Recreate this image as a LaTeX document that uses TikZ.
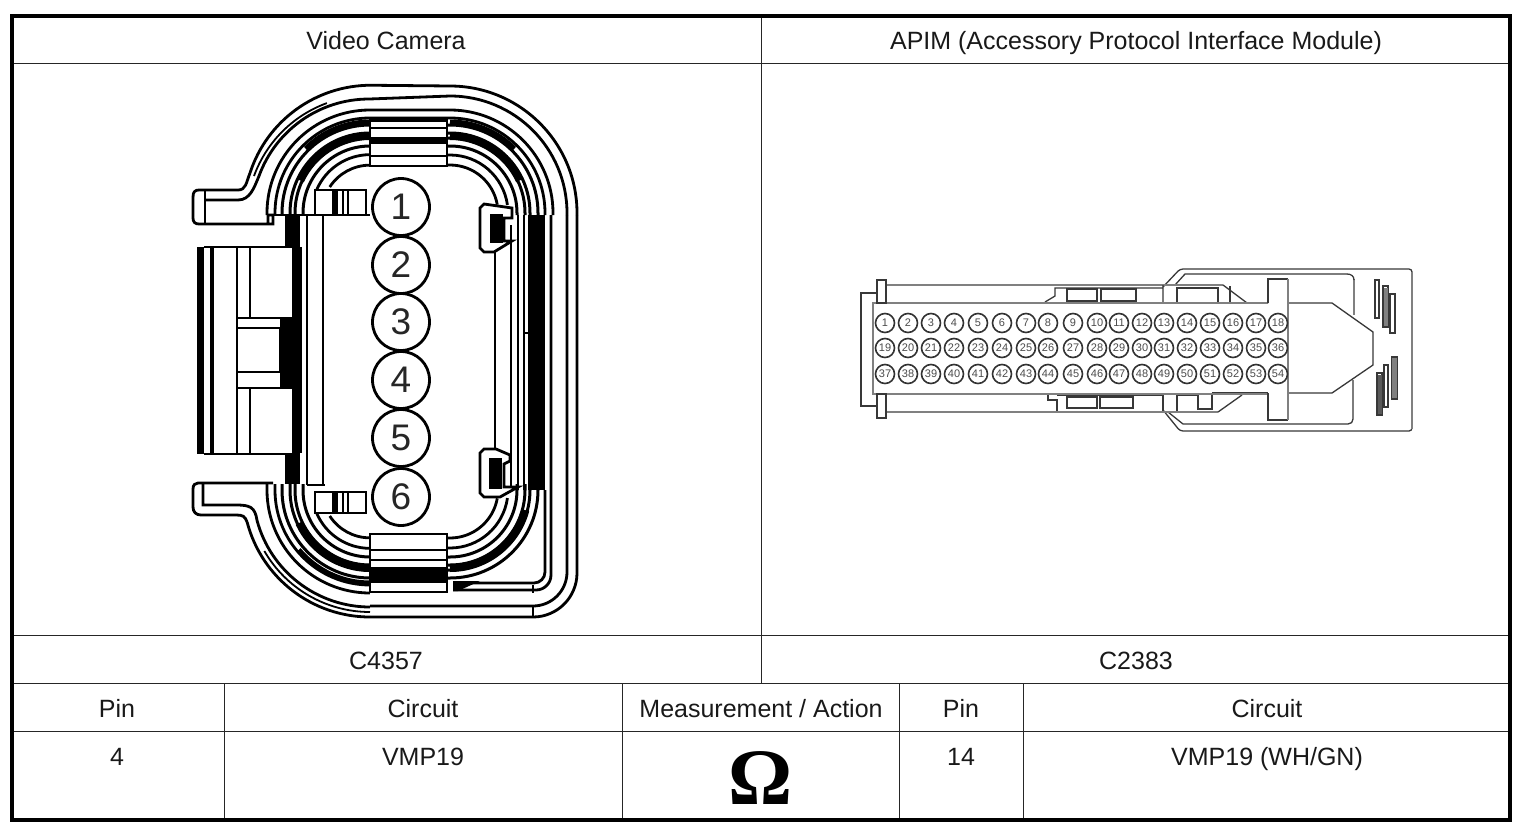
\documentclass[tikz,border=0pt]{standalone}
\usepackage{fontspec}
\setmainfont{Liberation Sans}
\newfontfamily\omegafont{Liberation Serif}
\begin{document}
\begin{tikzpicture}[x=1pt,y=-1pt,
  grid/.style={line width=1pt,black!85},
  lbl/.style={font=\fontsize{25}{28}\selectfont,inner sep=0pt,text=black!90,anchor=base},
  ln/.style={line width=2.8pt,black},
  thn/.style={line width=1.8pt,black},
  band/.style={line width=8pt,black},
  bigpin/.style={circle,draw=black,line width=2.8pt,fill=white,minimum size=57pt,inner sep=0pt,font=\fontsize{37}{40}\selectfont,text=black!85},
  gl/.style={line width=1.3pt,black!65},
  gd/.style={line width=1.3pt,black!78},
  gt/.style={line width=2.2pt,black!50},
  smallpin/.style={circle,draw=black!80,line width=1.6pt,fill=white,minimum size=19pt,inner sep=0pt,font=\fontsize{11}{12}\selectfont,text=black!70}
]
\useasboundingbox (0,0) rectangle (1526,830);
\fill[white] (0,0) rectangle (1526,830);

% ---------- table ----------
\draw[grid] (12,63) -- (1510,63) (12,635) -- (1510,635) (12,683) -- (1510,683) (12,731) -- (1510,731);
\draw[grid] (761,16) -- (761,683);
\draw[grid] (224,683) -- (224,820) (622,683) -- (622,820) (899,683) -- (899,820) (1023,683) -- (1023,820);
\draw[line width=3.6pt,black] (12,16) rectangle (1510,820);

\node[lbl] (hcam) at (386,49) {Video Camera};
\node[lbl] (hapim) at (1136,49) {APIM (Accessory Protocol Interface Module)};
\node[lbl] (ccam) at (386,669) {C4357};
\node[lbl] (capim) at (1136,669) {C2383};
\node[lbl] (th1) at (117,717) {Pin};
\node[lbl] (th2) at (423,717) {Circuit};
\node[lbl] (th3) at (761,717) {Measurement / Action};
\node[lbl] (th4) at (961,717) {Pin};
\node[lbl] (th5) at (1267,717) {Circuit};
\node[lbl] (td1) at (117,765) {4};
\node[lbl] (td2) at (423,765) {VMP19};
\node[lbl] (td4) at (961,765) {14};
\node[lbl] (td5) at (1267,765) {VMP19 (WH/GN)};
\node[inner sep=0pt,font=\omegafont\bfseries\fontsize{80}{82}\selectfont,anchor=base] (omega) at (761,804) {Ω};

% ---------- video camera connector ----------
% outer shell top with the tab
\draw[ln] (193,197) .. controls (193,192) and (195,190) .. (199,190) -- (238,190) .. controls (246,190) and (246,183) .. (250,173)
  arc[start angle=198,end angle=270,radius=127] -- (450,86) arc[start angle=270,end angle=360,radius=127] -- (577,215);
\draw[ln] (205,200) -- (238,200) .. controls (250,200) and (254,188) .. (259,176)
  arc[start angle=200,end angle=270,radius=117] -- (450,96) arc[start angle=270,end angle=360,radius=117] -- (567,215);
\draw[thn] (254,176) arc[start angle=200,end angle=250,radius=122];
\draw[ln] (193,197) -- (193,218) .. controls (193,222) and (195,224) .. (199,224) -- (273,224) -- (273,215) -- (268,215) -- (268,224);
\draw[ln] (205,191) -- (205,224);
% strip at the right
\draw[ln] (567,215) -- (567,572) arc[start angle=0,end angle=90,radius=34] -- (370,606);
\draw[ln] (577,215) -- (577,573) arc[start angle=0,end angle=90,radius=44] -- (370,617);
\draw[ln] (533,606) -- (533,617);
\draw[ln] (370,617) arc[start angle=90,end angle=165,radius=127] .. controls (245,516) and (243,515) .. (236,515) -- (201,515) .. controls (196,515) and (193,512) .. (193,507) -- (193,489) .. controls (193,485) and (195,483) .. (198,483) -- (273,483);
\draw[ln] (370,607) arc[start angle=90,end angle=165,radius=117] .. controls (255,507) and (250,505) .. (236,505) -- (203,505) -- (203,484);
\draw[thn] (370,612) arc[start angle=90,end angle=150,radius=122];

% concentric rings at the top
\foreach \r/\w in {103/2.8,95/2.8,88/3,80/3,75/3,67/3}{
  \draw[line width=\w pt] ({370-\r},215) -- ({370-\r},213) arc[start angle=180,end angle=270,radius=\r] -- (450,{213-\r}) arc[start angle=270,end angle=360,radius=\r] -- ({450+\r},215);
}
\draw[ln] ({370-58*cos(23)},190) arc[start angle=203,end angle=270,radius=58] -- (450,155) arc[start angle=270,end angle=352,radius=58];
\draw[ln] ({370-48*cos(33)},187) arc[start angle=213,end angle=270,radius=48] -- (450,165) arc[start angle=270,end angle=350,radius=48];
% heavy wedges at the top
\draw[band] (370,136) arc[start angle=270,end angle=205,radius=77];
\draw[band] (450,136) arc[start angle=270,end angle=335,radius=77];
\draw[line width=5pt] (370,122) arc[start angle=270,end angle=225,radius=91];
\draw[line width=5pt] (450,122) arc[start angle=270,end angle=315,radius=91];

% concentric rings at the bottom
\foreach \r/\w in {103/2.8,95/2.8}{
  \draw[line width=\w pt] ({370-\r},484) -- ({370-\r},490) arc[start angle=180,end angle=90,radius=\r];
}
\foreach \r/\w in {88/3,80/3,75/3,67/3}{
  \draw[line width=\w pt] ({370-\r},484) -- ({370-\r},490) arc[start angle=180,end angle=90,radius=\r] -- (450,{490+\r}) arc[start angle=90,end angle=0,radius=\r] -- ({450+\r},484);
}
\draw[ln] ({370-58*cos(23)},513) arc[start angle=157,end angle=90,radius=58] -- (450,548) arc[start angle=90,end angle=8,radius=58];
\draw[ln] ({370-48*cos(33)},516) arc[start angle=147,end angle=90,radius=48] -- (450,538) arc[start angle=90,end angle=10,radius=48];
\draw[band] (370,568) arc[start angle=90,end angle=155,radius=78];
\draw[band] (450,568) arc[start angle=90,end angle=15,radius=78];
\draw[line width=5pt] (370,583) arc[start angle=90,end angle=140,radius=93];

% verticals on the right
\draw[ln] (495,245) -- (495,450);
\draw[ln] (511,225) -- (511,490);
\draw[ln] (518,215) -- (518,490);
\draw[ln] (524,215) -- (524,490);
\fill[black] (528,215) rectangle (545,490);
\draw[ln] (551,215) -- (551,575) arc[start angle=0,end angle=90,radius=15] -- (453,590);
\draw[ln] (545,490) -- (545,572) arc[start angle=0,end angle=90,radius=11] -- (453,583);
\fill[black] (453,581) -- (480,581) -- (458,591) -- (453,591) -- cycle;
\draw[thn] (524,333) -- (530,333);
\draw[ln] (533,585) -- (533,593);

% body on the left
\fill[black] (285,215) rectangle (300,247);
\fill[black] (285,453) rectangle (300,484);
\fill[black] (292,247) rectangle (302,453);
\fill[black] (280,318) rectangle (300,388);
\fill[white] (237,320) rectangle (280,387);
\draw[ln] (268,215) -- (370,215);
\draw[ln] (307,215) -- (307,485);
\draw[ln] (323,215) -- (323,485);
\draw[ln] (307,485) -- (325,485);
\draw[ln] (204,247) -- (293,247);
\draw[ln] (204,454) -- (293,454);
\fill[black] (197,247) rectangle (204,454);
\draw[line width=4pt] (212,247) -- (212,454);
\draw[ln] (237,247) -- (237,454);
\draw[ln] (250,247) -- (250,318);
\draw[ln] (250,388) -- (250,454);
\draw[ln] (237,318) -- (293,318);
\draw[ln] (237,328) -- (280,328);
\draw[ln] (237,372) -- (280,372);
\draw[ln] (237,388) -- (293,388);
\draw[ln] (280,328) -- (280,372);

% latches on the left
\draw[ln,fill=white] (315,190) rectangle (366,215);
\fill[black] (332,190) rectangle (338,215);
\draw[ln] (343,190) -- (343,215) (348,190) -- (348,215);
\draw[ln,fill=white] (315,492) rectangle (366,513);
\fill[black] (332,492) rectangle (338,513);
\draw[ln] (343,492) -- (343,513) (348,492) -- (348,513);

% latches on the right
\draw[ln,fill=white] (484,204) -- (512,208) -- (512,218) -- (504,218) -- (504,241) -- (512,241) -- (494,252) -- (484,252) -- (480,248) -- (480,208) -- cycle;
\fill[black] (490,214) rectangle (503,243);
\draw[ln,fill=white] (484,449) -- (496,449) -- (510,455) -- (510,461) -- (504,464) -- (504,487) -- (518,487) -- (500,497) -- (484,497) -- (480,493) -- (480,453) -- cycle;
\fill[black] (489,458) rectangle (502,489);

% top and bottom blocks
\draw[ln,fill=white] (370,120) rectangle (447,166);
\fill[black] (370,118) rectangle (447,122);
\draw[ln] (370,128) -- (447,128);
\fill[black] (370,137) rectangle (447,144);
\draw[ln] (370,156) -- (447,156);
\draw[ln,fill=white] (370,534) rectangle (447,592);
\draw[ln] (370,550) -- (447,550);
\draw[ln] (370,560) -- (447,560);
\fill[black] (370,567) rectangle (447,583);

% pins of the camera connector
\foreach \n/\y in {1/207,2/265,3/322,4/380,5/438,6/497}{
  \node[bigpin] (cam\n) at (401,\y) {\n};
}

% ---------- APIM connector ----------
% outer housing
\draw[gd,rounded corners=3pt] (1163,287) -- (1180,269) -- (1412,269) -- (1412,431) -- (1180,431) -- (1163,410);
\draw[gt] (1412,272) -- (1412,429);
\draw[gd] (1175,285) -- (1185,274) -- (1347,274);
\draw[gt] (1354,279) -- (1354,315);
\draw[gd] (1347,274) .. controls (1351,274) and (1354,276) .. (1354,280);
\draw[gd] (1353,380) -- (1353,419) .. controls (1353,422) and (1351,424) .. (1348,424) -- (1183,424) -- (1168,412);
% fins
\foreach \a/\b/\c/\d in {1375/280/1379/318,1383/286/1388/327,1390/294/1395/333,1377/373/1382/415,1384/365/1388/407,1392/357/1397/399}{
  \draw[gd] (\a,\b) rectangle (\c,\d);
}
\fill[black!50] (1384,288) rectangle (1388,326);
\fill[black!50] (1392,358) rectangle (1397,398);
\fill[black!65] (1378,375) rectangle (1382,414);
% nose
\draw[gd] (1288,303) -- (1332,303) -- (1373,332) -- (1373,365) -- (1332,393) -- (1288,393);
% long side rails
\draw[gt] (886,285) -- (1223,285);
\draw[gt] (886,412) -- (1218,412);
\draw[gd] (1223,285) -- (1247,303) -- (1268,303);
\draw[gd] (1230,286) -- (1230,303) -- (1247,303);
\draw[gd] (1212,393) -- (1268,393);
\draw[gd] (1242,395) -- (1218,412);
% upper detail
\draw[gd] (1045,302) -- (1055,296) -- (1055,288) -- (1163,288) (1163,285) -- (1163,303);
\draw[gd] (1067,289) rectangle (1097,301);
\draw[gd] (1101,289) rectangle (1136,301);
\draw[gd] (1177,288) rectangle (1218,303);
% lower detail
\draw[gd] (1048,395) -- (1048,400) -- (1057,400) -- (1057,411);
\draw[gd] (1057,395) -- (1163,395) -- (1163,411);
\draw[gd] (1067,397) rectangle (1097,408);
\draw[gd] (1100,397) rectangle (1133,408);
\draw[gd] (1177,411) -- (1177,395) -- (1198,395) -- (1198,409) -- (1212,409) -- (1212,393);
% main body, open towards the post
\draw[gt] (1268,303) -- (873,303) -- (873,394) -- (1268,394);
% bracket and flanges
\draw[gd] (877,293) -- (861,293) -- (861,406) -- (877,406);
\draw[gd,fill=white] (877,280) rectangle (886,303);
\draw[gd,fill=white] (877,394) rectangle (886,418);
% post, open towards the body
\fill[white] (1268,304) rectangle (1288,393);
\draw[gd] (1268,303) -- (1268,279) -- (1288,279);
\draw[gd] (1268,393) -- (1268,420) -- (1288,420);
\draw[gt] (1288,279) -- (1288,420);

% pins of the APIM connector
\foreach \rowy/\base in {323/0,348/18,374/36}{
  \foreach \x [count=\i] in {885,908,931,954,978,1002,1026,1048,1073,1097,1119,1142,1164,1187,1210,1233,1256,1278}{
    \pgfmathtruncatemacro{\pinno}{\i+\base}
    \node[smallpin] (ap\pinno) at (\x,\rowy) {\pinno};
  }
}
\end{tikzpicture}
\end{document}
